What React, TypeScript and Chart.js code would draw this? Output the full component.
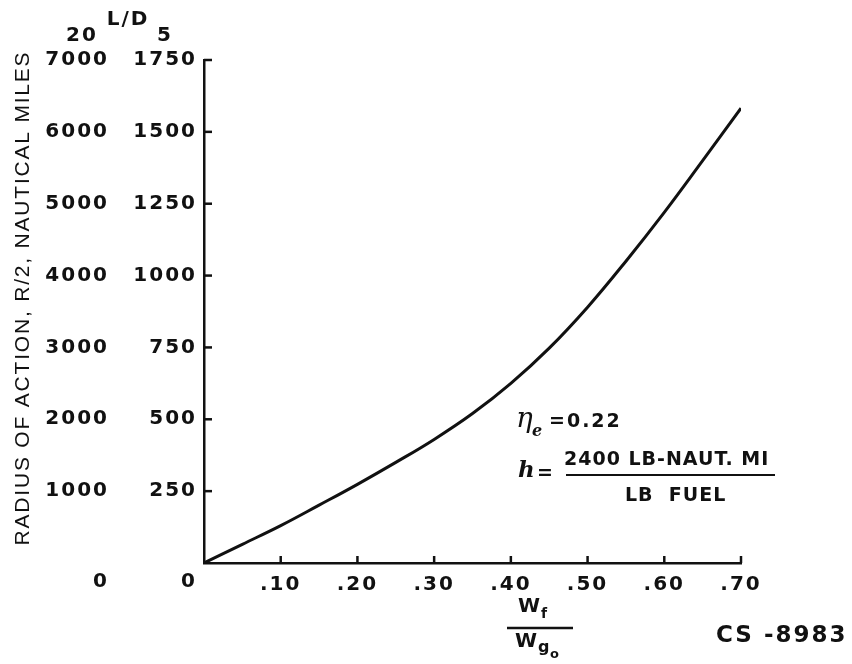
import { useEffect, useRef } from 'react';
import { Chart, registerables } from 'chart.js';

Chart.register(...registerables);

// Fuel fraction Wf/Wg0
const fuelFraction = [0, 0.05, 0.1, 0.15, 0.2, 0.25, 0.3, 0.35, 0.4, 0.45, 0.5, 0.55, 0.6, 0.65, 0.7];
// Radius of action R/2 (nautical miles) read on the L/D = 20 scale
const radiusLD20 = [0, 260, 520, 805, 1095, 1400, 1720, 2080, 2500, 2990, 3560, 4200, 4880, 5600, 6330];

const ld20Range = [0, 7000];
const ld20Step = 1000;
const ld5Range = [0, 1750];
const ld5Step = 250;
const xRange = [0, 0.7];
const xStep = 0.1;

const FONT = 'DejaVu Sans';
const INK = '#111';

const inkPlugin = {
  id: 'inkPlugin',
  beforeLayout(chart: any) {
    chart.ctx.letterSpacing = '2px';
  },
  beforeDraw(chart: any) {
    const ctx = chart.ctx;
    ctx.save();
    ctx.fillStyle = '#fff';
    ctx.fillRect(0, 0, chart.width, chart.height);
    ctx.restore();
    ctx.letterSpacing = '2px';
  },
  afterDraw(chart: any) {
    const ctx = chart.ctx;
    const xs = chart.scales.x;
    const y5 = chart.scales.y5;
    const area = chart.chartArea;
    ctx.save();
    ctx.strokeStyle = INK;
    ctx.fillStyle = INK;
    ctx.lineWidth = 2.5;
    // inward tick marks
    xs.ticks.forEach((t: any) => {
      if (t.value <= 0) return;
      const px = xs.getPixelForValue(t.value);
      ctx.beginPath();
      ctx.moveTo(px, area.bottom);
      ctx.lineTo(px, area.bottom - 7);
      ctx.stroke();
    });
    y5.ticks.forEach((t: any) => {
      if (t.value <= 0) return;
      const py = y5.getPixelForValue(t.value);
      ctx.beginPath();
      ctx.moveTo(area.left, py);
      ctx.lineTo(area.left + 8, py);
      ctx.stroke();
    });

    ctx.textBaseline = 'middle';
    ctx.textAlign = 'center';
    // L/D header
    ctx.letterSpacing = '2px';
    ctx.font = `bold 20px ${FONT}`;
    ctx.fillText('20', 82, 36);
    ctx.fillText('L/D', 128, 20);
    ctx.fillText('5', 165, 36);

    // y axis title (rotated)
    ctx.save();
    ctx.translate(23, 298);
    ctx.rotate(-Math.PI / 2);
    ctx.font = `21px 'Liberation Sans'`;
    ctx.letterSpacing = '1.8px';
    ctx.fillText('RADIUS OF ACTION, R/2, NAUTICAL MILES', 0, 0);
    ctx.restore();

    // annotation
    ctx.textAlign = 'left';
    ctx.letterSpacing = '0px';
    ctx.font = `italic 28px 'DejaVu Serif'`;
    ctx.fillText('\u03b7', 516, 420);
    ctx.font = `bold italic 16px 'DejaVu Serif'`;
    ctx.fillText('e', 532, 432);
    ctx.letterSpacing = '2px';
    ctx.font = `bold 19px ${FONT}`;
    ctx.fillText('=0.22', 549, 422);
    ctx.letterSpacing = '1px';
    ctx.font = `bold italic 23px 'DejaVu Serif'`;
    ctx.fillText('h', 518, 471);
    ctx.font = `bold 19px ${FONT}`;
    ctx.fillText('=', 537, 474);
    ctx.fillText('2400 LB-NAUT. MI', 564, 460);
    ctx.fillText('LB  FUEL', 625, 496);
    ctx.lineWidth = 2;
    ctx.beginPath();
    ctx.moveTo(566, 475);
    ctx.lineTo(775, 475);
    ctx.stroke();

    // x axis title as fraction
    ctx.letterSpacing = '0px';
    ctx.font = `bold 20px ${FONT}`;
    ctx.fillText('W', 518, 607);
    ctx.font = `bold 14px ${FONT}`;
    ctx.fillText('f', 541, 614);
    ctx.lineWidth = 2.5;
    ctx.beginPath();
    ctx.moveTo(507, 628);
    ctx.lineTo(573, 628);
    ctx.stroke();
    ctx.font = `bold 20px ${FONT}`;
    ctx.fillText('W', 515, 642);
    ctx.font = `bold 16px ${FONT}`;
    ctx.fillText('g', 538, 648);
    ctx.font = `bold 13px ${FONT}`;
    ctx.fillText('o', 550, 655);

    ctx.letterSpacing = '2px';
    ctx.font = `bold 23px ${FONT}`;
    ctx.fillText('CS -8983', 716, 636);
    ctx.restore();
  },
};

export default function App() {
  const ref = useRef<HTMLCanvasElement | null>(null);
  useEffect(() => {
    if (!ref.current) return;
    const tickFont = { family: FONT, size: 20, weight: 'bold', lineHeight: 1.9 };
    const chart = new Chart(ref.current, {
      type: 'line',
      data: {
        datasets: [
          {
            label: 'R/2',
            data: fuelFraction.map((x, i) => ({ x, y: radiusLD20[i] })),
            yAxisID: 'y20',
            borderColor: INK,
            borderWidth: 3,
            pointRadius: 0,
            tension: 0.4,
            fill: false,
          },
        ],
      },
      options: {
        responsive: false,
        animation: false,
        events: [],
        layout: { padding: { top: 60, right: 111, left: 0, bottom: 0 } },
        plugins: { legend: { display: false }, tooltip: { enabled: false }, title: { display: false } },
        scales: {
          x: {
            type: 'linear',
            min: xRange[0],
            max: xRange[1],
            grid: { display: false, drawTicks: false },
            border: { display: true, color: INK, width: 2.5 },
            ticks: {
              stepSize: xStep,
              color: INK,
              font: { family: FONT, size: 20, weight: 'bold' },
              padding: 10,
              maxRotation: 0,
              autoSkip: false,
              callback: (v: any) => (v === 0 ? '' : '.' + String(Math.round(Number(v) * 100))),
            },
            afterFit: (s: any) => {
              s.height = 101;
            },
          },
          y5: {
            type: 'linear',
            position: 'left',
            weight: 1,
            min: ld5Range[0],
            max: ld5Range[1],
            grid: { display: false, drawTicks: false },
            border: { display: true, color: INK, width: 2.5 },
            ticks: {
              stepSize: ld5Step,
              color: INK,
              font: tickFont,
              padding: 7,
              autoSkip: false,
              callback: (v: any) => (v === 0 ? ['', '0'] : String(v)),
            },
            afterFit: (s: any) => {
              s.width = 86;
            },
          },
          y20: {
            type: 'linear',
            position: 'left',
            weight: 2,
            min: ld20Range[0],
            max: ld20Range[1],
            grid: { display: false, drawTicks: false },
            border: { display: false },
            ticks: {
              stepSize: ld20Step,
              color: INK,
              font: tickFont,
              padding: 9,
              autoSkip: false,
              callback: (v: any) => (v === 0 ? ['', '0'] : String(v)),
            },
            afterFit: (s: any) => {
              s.width = 118;
            },
          },
        },
      },
      plugins: [inkPlugin],
    } as any);
    return () => chart.destroy();
  }, []);
  return (
    <div style={{ position: 'fixed', left: 0, top: 0, width: 852, height: 664, background: '#fff' }}>
      <canvas ref={ref} width={852} height={664} style={{ display: 'block' }} />
    </div>
  );
}
